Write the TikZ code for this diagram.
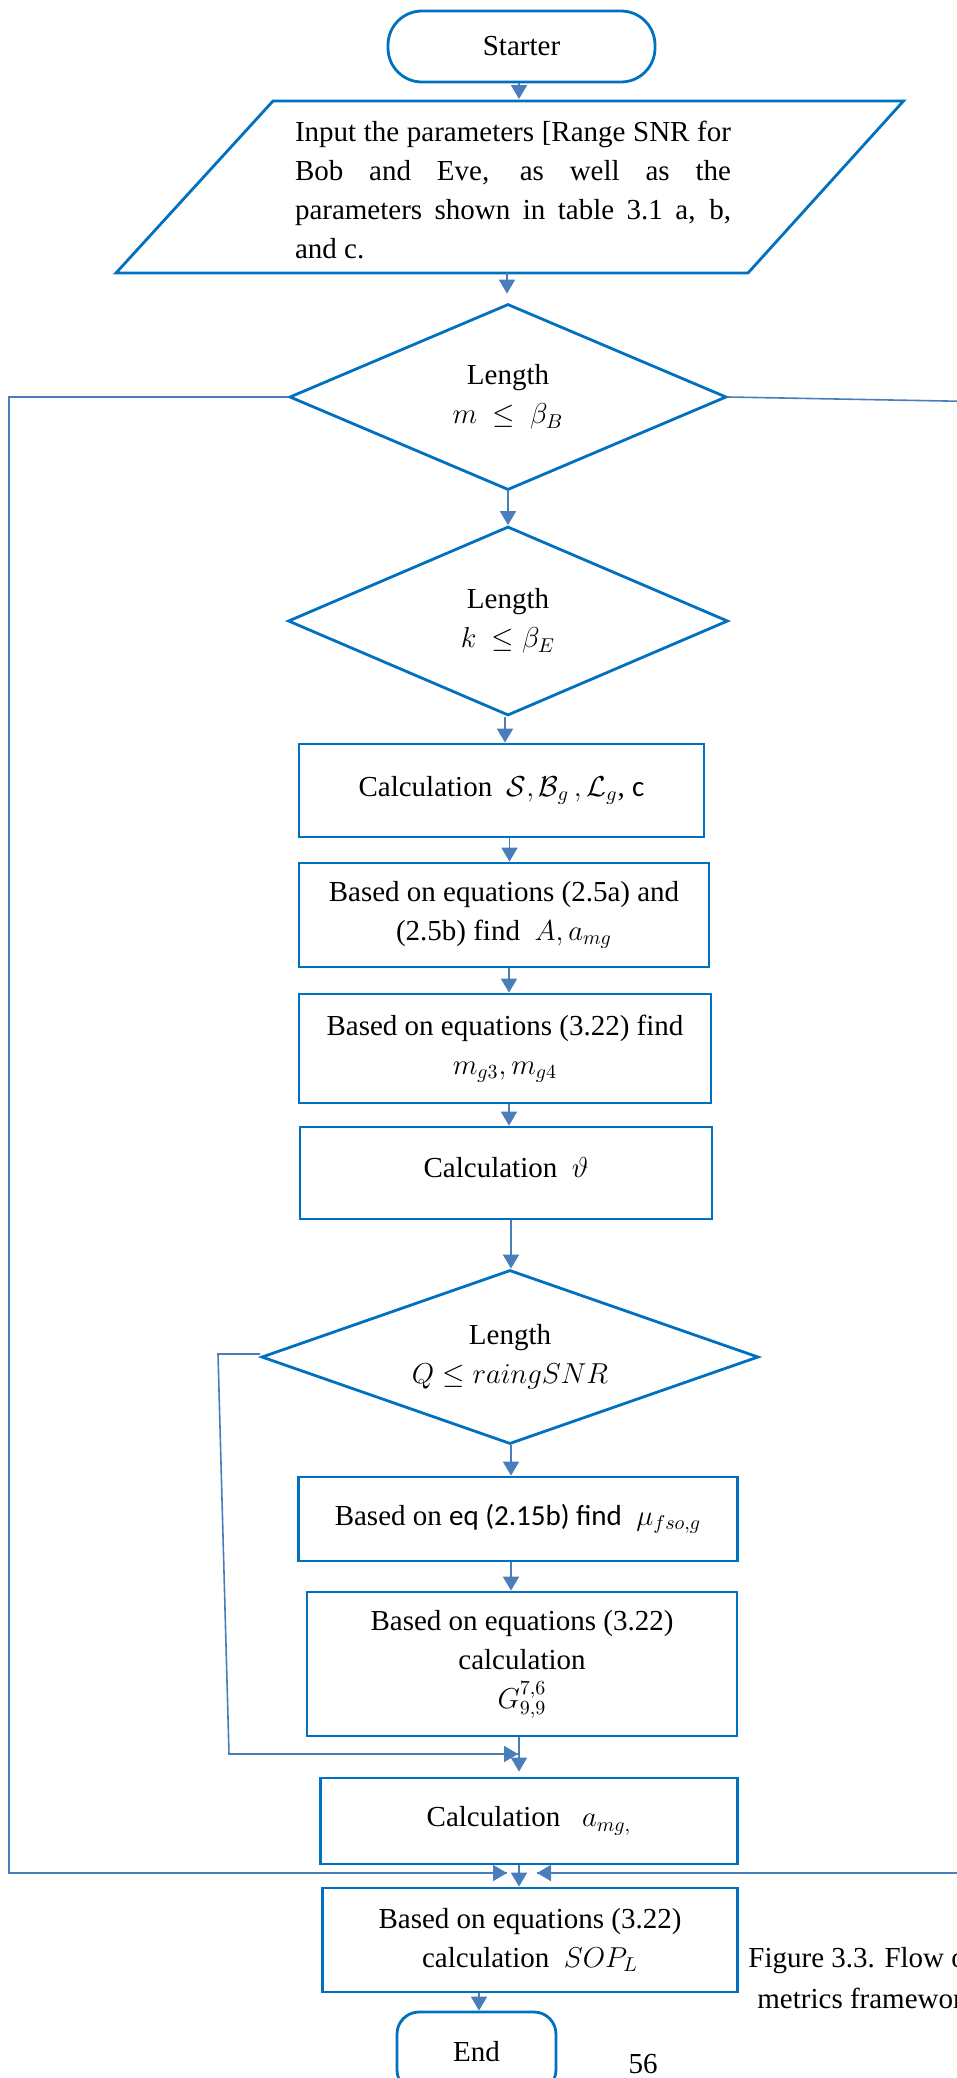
\documentclass[tikz,border=0pt]{standalone}
\usepackage{fontspec}
\setmainfont{Liberation Serif}
\newfontfamily\calibri{Carlito}
\usetikzlibrary{shapes.geometric,arrows.meta}

\definecolor{boxblue}{HTML}{0070C0}
\definecolor{lineblue}{HTML}{4A7EBB}

\tikzset{
  txt/.style={font=\fontsize{14.5}{19.5}\selectfont, text=black},
  procbox/.style={txt, draw=boxblue, line width=1.4pt, rectangle, inner sep=0pt, align=center},
  decision/.style={txt, draw=boxblue, line width=1.4pt, diamond, inner sep=0pt, align=center},
  terminal/.style={txt, draw=boxblue, line width=1.4pt, rectangle, inner sep=0pt, align=center},
  conn/.style={draw=lineblue, line width=0.9pt, -{Triangle[length=7pt,width=8pt]}},
  wire/.style={draw=lineblue, line width=0.8pt},
}

\begin{document}
\begin{tikzpicture}[x=0.5pt,y=-0.5pt]
\useasboundingbox (0,0) rectangle (957,2078);
\clip (0,0) rectangle (957,2078);

% terminals
\node[terminal, rounded corners=17pt, minimum width=133.5pt, minimum height=35.5pt] (start) at (521.5,46.5) {Starter};
\node[terminal, rounded corners=11pt, minimum width=79.5pt, minimum height=40pt] (stop) at (476.5,2052) {End};

% input parallelogram
\coordinate (pTL) at (273,101);
\coordinate (pTR) at (903.5,101);
\coordinate (pBR) at (748,273);
\coordinate (pBL) at (116,273);
\draw[boxblue, line width=1.4pt] (pTL) -- (pTR) -- (pBR) -- (pBL) -- cycle;
\node[txt, text width=218pt, align=justify, inner sep=0pt] (input) at (513,190)
  {Input the parameters [Range SNR for\linebreak Bob and Eve, as well as the\linebreak parameters shown in table 3.1 a, b,\linebreak and c.};
\coordinate (pOut) at (507,273);

% decisions
\node[decision, aspect=2.35, minimum width=218.5pt, minimum height=93pt] (d1) at (508,397) {Length\\$m\ \le\ \beta_B$};
\node[decision, aspect=2.33, minimum width=220pt, minimum height=94.5pt] (d2) at (508,621) {Length\\$k\ \le\beta_E$};
\node[decision, aspect=2.86, minimum width=248.5pt, minimum height=87pt] (d3) at (510,1357) {Length\\$Q\le raingSNR$};

% process boxes
\node[procbox, minimum width=202.5pt, minimum height=46.5pt] (b1) at (501.5,790.5)
  {Calculation\ \ $\mathcal{S},\mathcal{B}_g\,,\mathcal{L}_g$, {\calibri c}};
\node[procbox, minimum width=205pt, minimum height=52pt] (b2) at (504,915)
  {Based on equations (2.5a) and\\(2.5b) find\ \ $A,a_{mg}$};
\node[procbox, minimum width=206pt, minimum height=54.5pt] (b3) at (505,1048.5)
  {Based on equations (3.22) find\\$m_{g3},m_{g4}$};
\node[procbox, minimum width=206pt, minimum height=46pt] (b4) at (506,1173)
  {\raisebox{5.5pt}{Calculation\ \ $\vartheta$}};
\node[procbox, minimum width=219.25pt, minimum height=42pt] (b5) at (518,1519)
  {Based on {\calibri eq (2.15b) find}\ \ $\mu_{fso,g}$};
\node[procbox, minimum width=215pt, minimum height=72pt] (b6) at (522,1664)
  {Based on equations (3.22)\\calculation\\$G^{7,6}_{9,9}$};
\node[procbox, minimum width=208.5pt, minimum height=43pt] (b7) at (529,1821)
  {Calculation\ \ \ $a_{mg,}$};
\node[procbox, minimum width=207.5pt, minimum height=52pt] (b8) at (530,1940)
  {Based on equations (3.22)\\calculation\ \ $SOP_L$};

% caption and page number
\node[txt, anchor=west, inner sep=0pt] (cap1) at (748,1960) {Figure 3.3. Flow of};
\node[txt, anchor=west, inner sep=0pt] (cap2) at (757,1998) {metrics framework};
\node[txt, inner sep=0pt] (page) at (643,2064) {56};

% main flow
\draw[conn, shorten >=1pt] ([xshift=-1.25pt]start.south) -- ([xshift=-1.25pt]start.south |- pTL);
\draw[conn, shorten >=4.5pt] (pOut) -- (pOut |- d1.north);
\draw[conn] (d1.south) -- (d2.north);
\draw[conn] ([xshift=-1.5pt]d2.south) -- ([xshift=-1.5pt]d2.south |- b1.north);
\draw[conn] ([xshift=4pt]b1.south) -- ([xshift=4pt]b1.south |- b2.north);
\draw[conn] ([xshift=2.5pt]b2.south) -- ([xshift=2.5pt]b2.south |- b3.north);
\draw[conn] ([xshift=2pt]b3.south) -- ([xshift=2pt]b3.south |- b4.north);
\draw[conn] ([xshift=2.5pt]b4.south) -- ([xshift=2.5pt]b4.south |- d3.north);
\draw[conn] ([xshift=0.5pt]d3.south) -- ([xshift=0.5pt]d3.south |- b5.north);
\draw[conn] ([xshift=-3.5pt]b5.south) -- ([xshift=-3.5pt]b5.south |- b6.north);
\draw[conn, shorten >=2.5pt] ([xshift=-1.5pt]b6.south) -- ([xshift=-1.5pt]b6.south |- b7.north);
\draw[conn] ([xshift=-5pt]b7.south) -- ([xshift=-5pt]b7.south |- b8.north);
\draw[conn] ([xshift=-25.5pt]b8.south) -- ([xshift=-25.5pt]b8.south |- stop.north);

% inner loop back from the third decision
\coordinate (q1) at (218,1354);
\coordinate (q2) at (229,1754);
\coordinate (q3) at (518,1754);
\draw[wire] ([yshift=1.5pt]d3.west) -- (q1) -- (q2) -- (q3);
\draw[conn] (q2) -- (q3);

% outer loops from the first decision
\coordinate (l1) at (9,397);
\coordinate (l2) at (9,1873);
\coordinate (l3) at (507,1873);
\draw[wire] (d1.west) -- (l1) -- (l2) -- (l3);
\draw[conn] (l2) -- (l3);
\coordinate (r1) at (1000,402);
\coordinate (r2) at (1000,1873);
\coordinate (r3) at (537,1873);
\draw[wire] (d1.east) -- (r1) -- (r2) -- (r3);
\draw[conn] (r2) -- (r3);
\end{tikzpicture}
\end{document}
